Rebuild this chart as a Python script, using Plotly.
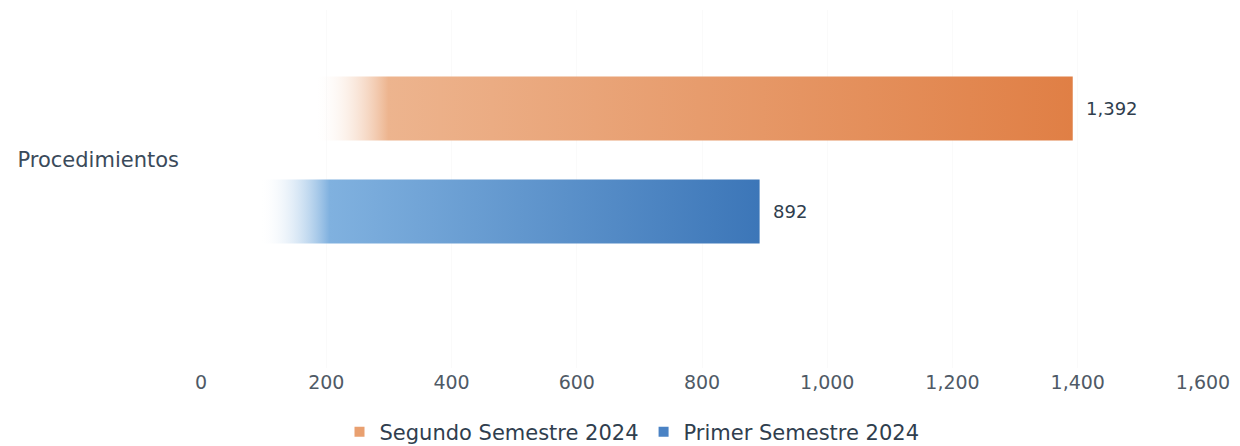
import plotly.graph_objects as go

# data
category = "Procedimientos"
series_names = ["Segundo Semestre 2024", "Primer Semestre 2024"]
series_values = [1392, 892]
series_colors = ["#E07F45", "#3C76B8"]
series_light = ["#EDB48E", "#80B1DF"]
legend_colors = ["#E9A070", "#4A82C4"]
# where the left fade ends (fraction of bar length)
fade_start = [0.13, 0.105]
fade_end = [0.215, 0.23]
x_ticks = [0, 200, 400, 600, 800, 1000, 1200, 1400, 1600]

positions = [0.5, -0.5]  # orange above, blue below the category line
half = 0.31
text_color = "#2F3E4E"

fig = go.Figure()

for name, val, col, light, f0, f1, pos in zip(
    series_names, series_values, series_colors, series_light, fade_start, fade_end, positions
):
    fig.add_trace(
        go.Scatter(
            x=[0, val, val, 0, 0],
            y=[pos - half, pos - half, pos + half, pos + half, pos - half],
            fill="toself",
            mode="lines",
            line=dict(width=0),
            fillgradient=dict(
                type="horizontal",
                colorscale=[
                    [0, "rgba(255,255,255,0)"],
                    [f0, "rgba(255,255,255,0)"],
                    [f1, light],
                    [1, col],
                ],
            ),
            hoverinfo="skip",
            showlegend=False,
        )
    )
    fig.add_annotation(
        x=val,
        y=pos,
        text=f"{val:,}",
        showarrow=False,
        xanchor="left",
        xshift=11,
        font=dict(size=18, color=text_color),
    )

# legend entries
for name, col in zip(series_names, legend_colors):
    fig.add_trace(
        go.Scatter(
            x=[None],
            y=[None],
            mode="markers",
            marker=dict(symbol="square", size=10, color=col),
            name=name,
        )
    )

fig.update_layout(
    width=1240,
    height=446,
    margin=dict(l=193, r=45, t=2, b=86),
    paper_bgcolor="white",
    plot_bgcolor="white",
    font=dict(family="DejaVu Sans, sans-serif", color=text_color),
    showlegend=True,
    legend=dict(
        orientation="h",
        xref="container",
        yref="container",
        x=624 / 1240,
        xanchor="center",
        y=1 - 424 / 446,
        yanchor="middle",
        font=dict(size=21, color=text_color),
        itemwidth=30,
        traceorder="normal",
    ),
    xaxis=dict(
        range=[0, 1600],
        tickvals=x_ticks,
        ticktext=[f"{t:,}" for t in x_ticks],
        tickfont=dict(size=19, color="#4F5A66"),
        showgrid=True,
        gridcolor="#FAFAFA",
        zeroline=False,
        showline=False,
        automargin=False,
        ticklabelstandoff=1,
    ),
    yaxis=dict(
        range=[-2.019, 1.456],
        tickvals=[0],
        ticktext=[category],
        tickfont=dict(size=21, color="#3A4A5A"),
        showgrid=False,
        zeroline=False,
        showline=False,
        automargin=False,
        ticklabelstandoff=21,
    ),
)

fig.write_html("out.html")
